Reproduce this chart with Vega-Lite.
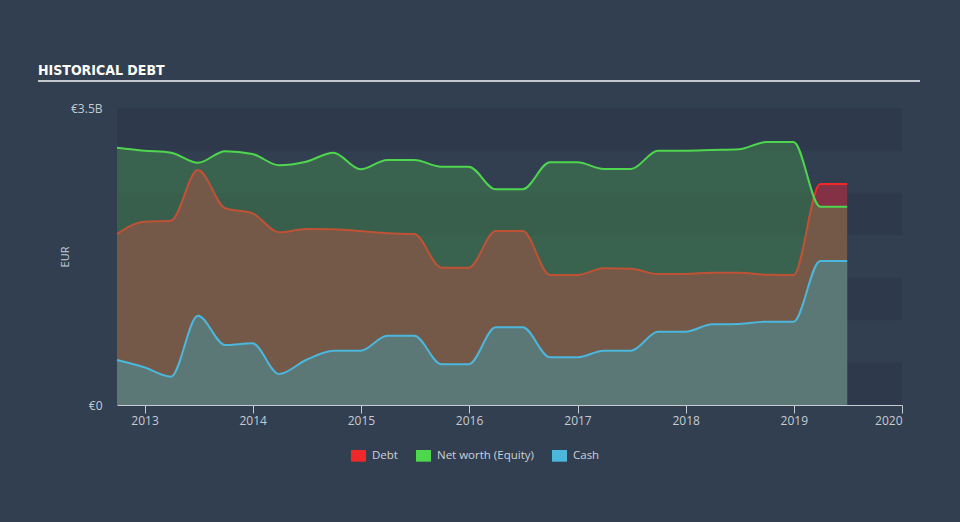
{
  "$schema": "https://vega.github.io/schema/vega-lite/v6.json",
  "width": 882,
  "height": 324,
  "autosize": {"type": "none"},
  "padding": {"left": 38, "top": 81, "right": 40, "bottom": 117},
  "background": "#323f50",
  "title": {
    "text": "HISTORICAL DEBT",
    "anchor": "start",
    "frame": "group",
    "font": "DejaVu Sans Condensed, Liberation Sans Narrow, sans-serif",
    "fontWeight": "bold",
    "fontSize": 14,
    "color": "#ffffff",
    "baseline": "alphabetic",
    "offset": -8
  },
  "config": {
    "view": {"stroke": "#c3c8cf", "strokeWidth": 2, "strokeDash": [882, 3000], "fill": null},
    "axis": {"grid": false, "labelFont": "Open Sans", "titleFont": "Open Sans", "labelColor": "#c6cbd2", "titleColor": "#c6cbd2"}
  },
  "data": {
    "values": [
      {"date": "2012-09-30", "series": "Debt", "value": 2.015},
      {"date": "2012-12-31", "series": "Debt", "value": 2.160},
      {"date": "2013-03-31", "series": "Debt", "value": 2.172},
      {"date": "2013-06-30", "series": "Debt", "value": 2.769},
      {"date": "2013-09-30", "series": "Debt", "value": 2.318},
      {"date": "2013-12-31", "series": "Debt", "value": 2.259},
      {"date": "2014-03-31", "series": "Debt", "value": 2.035},
      {"date": "2014-06-30", "series": "Debt", "value": 2.074},
      {"date": "2014-09-30", "series": "Debt", "value": 2.070},
      {"date": "2014-12-31", "series": "Debt", "value": 2.050},
      {"date": "2015-03-31", "series": "Debt", "value": 2.023},
      {"date": "2015-06-30", "series": "Debt", "value": 2.015},
      {"date": "2015-09-30", "series": "Debt", "value": 1.618},
      {"date": "2015-12-31", "series": "Debt", "value": 1.618},
      {"date": "2016-03-31", "series": "Debt", "value": 2.050},
      {"date": "2016-06-30", "series": "Debt", "value": 2.050},
      {"date": "2016-09-30", "series": "Debt", "value": 1.532},
      {"date": "2016-12-31", "series": "Debt", "value": 1.532},
      {"date": "2017-03-31", "series": "Debt", "value": 1.611},
      {"date": "2017-06-30", "series": "Debt", "value": 1.606},
      {"date": "2017-09-30", "series": "Debt", "value": 1.544},
      {"date": "2017-12-31", "series": "Debt", "value": 1.544},
      {"date": "2018-03-31", "series": "Debt", "value": 1.559},
      {"date": "2018-06-30", "series": "Debt", "value": 1.559},
      {"date": "2018-09-30", "series": "Debt", "value": 1.535},
      {"date": "2018-12-31", "series": "Debt", "value": 1.532},
      {"date": "2019-03-31", "series": "Debt", "value": 2.604},
      {"date": "2019-06-30", "series": "Debt", "value": 2.604},
      {"date": "2012-09-30", "series": "Net worth (Equity)", "value": 3.032},
      {"date": "2012-12-31", "series": "Net worth (Equity)", "value": 2.997},
      {"date": "2013-03-31", "series": "Net worth (Equity)", "value": 2.973},
      {"date": "2013-06-30", "series": "Net worth (Equity)", "value": 2.855},
      {"date": "2013-09-30", "series": "Net worth (Equity)", "value": 2.990},
      {"date": "2013-12-31", "series": "Net worth (Equity)", "value": 2.958},
      {"date": "2014-03-31", "series": "Net worth (Equity)", "value": 2.825},
      {"date": "2014-06-30", "series": "Net worth (Equity)", "value": 2.867},
      {"date": "2014-09-30", "series": "Net worth (Equity)", "value": 2.973},
      {"date": "2014-12-31", "series": "Net worth (Equity)", "value": 2.778},
      {"date": "2015-03-31", "series": "Net worth (Equity)", "value": 2.887},
      {"date": "2015-06-30", "series": "Net worth (Equity)", "value": 2.887},
      {"date": "2015-09-30", "series": "Net worth (Equity)", "value": 2.808},
      {"date": "2015-12-31", "series": "Net worth (Equity)", "value": 2.808},
      {"date": "2016-03-31", "series": "Net worth (Equity)", "value": 2.542},
      {"date": "2016-06-30", "series": "Net worth (Equity)", "value": 2.542},
      {"date": "2016-09-30", "series": "Net worth (Equity)", "value": 2.860},
      {"date": "2016-12-31", "series": "Net worth (Equity)", "value": 2.860},
      {"date": "2017-03-31", "series": "Net worth (Equity)", "value": 2.781},
      {"date": "2017-06-30", "series": "Net worth (Equity)", "value": 2.781},
      {"date": "2017-09-30", "series": "Net worth (Equity)", "value": 2.997},
      {"date": "2017-12-31", "series": "Net worth (Equity)", "value": 2.997},
      {"date": "2018-03-31", "series": "Net worth (Equity)", "value": 3.005},
      {"date": "2018-06-30", "series": "Net worth (Equity)", "value": 3.013},
      {"date": "2018-09-30", "series": "Net worth (Equity)", "value": 3.099},
      {"date": "2018-12-31", "series": "Net worth (Equity)", "value": 3.099},
      {"date": "2019-03-31", "series": "Net worth (Equity)", "value": 2.337},
      {"date": "2019-06-30", "series": "Net worth (Equity)", "value": 2.337},
      {"date": "2012-09-30", "series": "Cash", "value": 0.530},
      {"date": "2012-12-31", "series": "Cash", "value": 0.444},
      {"date": "2013-03-31", "series": "Cash", "value": 0.334},
      {"date": "2013-06-30", "series": "Cash", "value": 1.052},
      {"date": "2013-09-30", "series": "Cash", "value": 0.707},
      {"date": "2013-12-31", "series": "Cash", "value": 0.727},
      {"date": "2014-03-31", "series": "Cash", "value": 0.365},
      {"date": "2014-06-30", "series": "Cash", "value": 0.530},
      {"date": "2014-09-30", "series": "Cash", "value": 0.640},
      {"date": "2014-12-31", "series": "Cash", "value": 0.640},
      {"date": "2015-03-31", "series": "Cash", "value": 0.817},
      {"date": "2015-06-30", "series": "Cash", "value": 0.817},
      {"date": "2015-09-30", "series": "Cash", "value": 0.480},
      {"date": "2015-12-31", "series": "Cash", "value": 0.480},
      {"date": "2016-03-31", "series": "Cash", "value": 0.916},
      {"date": "2016-06-30", "series": "Cash", "value": 0.916},
      {"date": "2016-09-30", "series": "Cash", "value": 0.562},
      {"date": "2016-12-31", "series": "Cash", "value": 0.562},
      {"date": "2017-03-31", "series": "Cash", "value": 0.640},
      {"date": "2017-06-30", "series": "Cash", "value": 0.640},
      {"date": "2017-09-30", "series": "Cash", "value": 0.864},
      {"date": "2017-12-31", "series": "Cash", "value": 0.864},
      {"date": "2018-03-31", "series": "Cash", "value": 0.951},
      {"date": "2018-06-30", "series": "Cash", "value": 0.955},
      {"date": "2018-09-30", "series": "Cash", "value": 0.982},
      {"date": "2018-12-31", "series": "Cash", "value": 0.982},
      {"date": "2019-03-31", "series": "Cash", "value": 1.697},
      {"date": "2019-06-30", "series": "Cash", "value": 1.697}
    ]
  },
  "layer": [
    {
      "data": {"values": [{"lo": 0, "hi": 0.5}, {"lo": 1, "hi": 1.5}, {"lo": 2, "hi": 2.5}, {"lo": 3, "hi": 3.5}]},
      "mark": {"type": "rect", "color": "#2e3a4b"},
      "encoding": {
        "x": {"datum": {"year": 2012, "month": 9, "date": 30}, "type": "temporal"},
        "x2": {"datum": {"year": 2020, "month": 1, "date": 1}},
        "y": {"field": "lo", "type": "quantitative", "title": "EUR"},
        "y2": {"field": "hi"}
      }
    },
    {
      "encoding": {
        "x": {
          "field": "date",
          "type": "temporal",
          "title": null,
          "scale": {"domain": [{"year": 2012, "month": 9, "date": 30}, {"year": 2020, "month": 1, "date": 1}], "range": [79, 864]},
          "axis": {"format": "%Y", "tickCount": {"interval": "year", "step": 1}, "labelFontSize": 12, "tickSize": 8, "labelPadding": 2, "tickColor": "#c6cbd2", "domainColor": "#c6cbd2", "labelFlush": true}
        },
        "y": {
          "field": "value",
          "type": "quantitative",
          "title": "EUR",
          "scale": {"domain": [0, 3.5], "range": [324, 27], "nice": false, "zero": true},
          "axis": {"values": [0, 3.5], "labelExpr": "datum.value == 0 ? '€0' : '€' + datum.value + 'B'", "domain": false, "ticks": false, "labelPadding": 15, "labelFontSize": 12, "offset": -79, "titleX": -47, "titleFontSize": 11, "titleFontWeight": "normal"}
        }
      },
      "layer": [
        {
          "transform": [{"filter": "datum.series == 'Debt'"}],
          "mark": {"type": "area", "interpolate": "monotone", "color": "#843045"}
        },
        {
          "transform": [{"filter": "datum.series == 'Debt'"}],
          "mark": {"type": "line", "interpolate": "monotone", "strokeWidth": 2},
          "encoding": {
            "color": {"field": "series", "type": "nominal", "scale": {"domain": ["Debt", "Net worth (Equity)", "Cash"], "range": ["#f0282a", "#4fd64f", "#4bb7dc"]},
              "legend": {"title": null, "orient": "none", "legendX": 313, "legendY": 367, "direction": "horizontal", "symbolType": "M-1,-0.78H1V0.78H-1Z", "symbolSize": 225, "labelFont": "Open Sans", "labelFontSize": 11.5, "labelColor": "#cdd1d7", "columnPadding": 18, "labelOffset": 6, "padding": 0,
                "encode": {"symbols": {"update": {"fill": {"scale": "color", "field": "value"}, "fillOpacity": {"value": 1}, "strokeWidth": {"value": 0}}}}}}
          }
        },
        {
          "transform": [{"filter": "datum.series == 'Net worth (Equity)'"}],
          "mark": {"type": "area", "interpolate": "monotone", "color": "#4eb54e", "opacity": 0.3}
        },
        {
          "transform": [{"filter": "datum.series == 'Cash'"}],
          "mark": {"type": "area", "interpolate": "monotone", "color": "#5b7877"}
        },
        {
          "transform": [{"filter": "datum.series == 'Cash'"}],
          "mark": {"type": "line", "interpolate": "monotone", "strokeWidth": 2},
          "encoding": {
            "color": {"field": "series", "type": "nominal", "scale": {"domain": ["Debt", "Net worth (Equity)", "Cash"], "range": ["#f0282a", "#4fd64f", "#4bb7dc"]},
              "legend": {"title": null, "orient": "none", "legendX": 313, "legendY": 367, "direction": "horizontal", "symbolType": "M-1,-0.78H1V0.78H-1Z", "symbolSize": 225, "labelFont": "Open Sans", "labelFontSize": 11.5, "labelColor": "#cdd1d7", "columnPadding": 18, "labelOffset": 6, "padding": 0,
                "encode": {"symbols": {"update": {"fill": {"scale": "color", "field": "value"}, "fillOpacity": {"value": 1}, "strokeWidth": {"value": 0}}}}}}
          }
        },
        {
          "transform": [{"filter": "datum.series == 'Net worth (Equity)'"}],
          "mark": {"type": "line", "interpolate": "monotone", "strokeWidth": 2},
          "encoding": {
            "color": {"field": "series", "type": "nominal", "scale": {"domain": ["Debt", "Net worth (Equity)", "Cash"], "range": ["#f0282a", "#4fd64f", "#4bb7dc"]},
              "legend": {"title": null, "orient": "none", "legendX": 313, "legendY": 367, "direction": "horizontal", "symbolType": "M-1,-0.78H1V0.78H-1Z", "symbolSize": 225, "labelFont": "Open Sans", "labelFontSize": 11.5, "labelColor": "#cdd1d7", "columnPadding": 18, "labelOffset": 6, "padding": 0,
                "encode": {"symbols": {"update": {"fill": {"scale": "color", "field": "value"}, "fillOpacity": {"value": 1}, "strokeWidth": {"value": 0}}}}}}
          }
        }
      ]
    }
  ]
}
